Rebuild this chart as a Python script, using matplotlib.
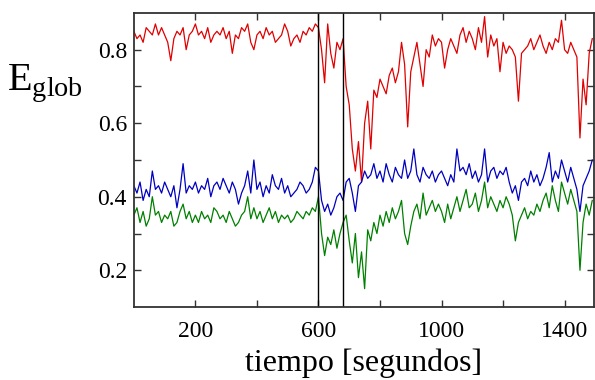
import numpy as np
import matplotlib
matplotlib.use("Agg")
import matplotlib.pyplot as plt

plt.rcParams['font.family'] = ['Liberation Serif', 'DejaVu Serif']
plt.rcParams['mathtext.fontset'] = 'custom'
plt.rcParams['mathtext.rm'] = 'Liberation Serif'

# time axis, one sample every 10 s
tiempo = np.arange(0, 1500, 10)

red = [0.85, 0.83, 0.84, 0.82, 0.86, 0.85, 0.84, 0.87, 0.84, 0.86,
       0.84, 0.82, 0.77, 0.83, 0.85, 0.84, 0.86, 0.80, 0.84, 0.85,
       0.87, 0.84, 0.85, 0.83, 0.86, 0.82, 0.84, 0.85, 0.84, 0.86,
       0.83, 0.85, 0.79, 0.84, 0.83, 0.86, 0.85, 0.87, 0.82, 0.80,
       0.84, 0.85, 0.83, 0.86, 0.84, 0.85, 0.82, 0.83, 0.84, 0.87,
       0.85, 0.81, 0.83, 0.84, 0.82, 0.85, 0.84, 0.86, 0.85, 0.87,
       0.86, 0.80, 0.71, 0.87, 0.79, 0.75, 0.82, 0.80, 0.83, 0.70,
       0.65, 0.53, 0.47, 0.55, 0.44, 0.60, 0.66, 0.53, 0.69, 0.67,
       0.72, 0.70, 0.68, 0.73, 0.75, 0.71, 0.74, 0.82, 0.76, 0.59,
       0.74, 0.78, 0.82, 0.76, 0.70, 0.80, 0.78, 0.84, 0.81, 0.83,
       0.82, 0.75, 0.80, 0.83, 0.81, 0.79, 0.84, 0.86, 0.82, 0.85,
       0.83, 0.80, 0.86, 0.82, 0.89, 0.78, 0.84, 0.81, 0.83, 0.74,
       0.82, 0.79, 0.81, 0.80, 0.78, 0.66, 0.79, 0.80, 0.81, 0.83,
       0.80, 0.82, 0.84, 0.81, 0.79, 0.82, 0.80, 0.83, 0.82, 0.88,
       0.80, 0.79, 0.82, 0.80, 0.78, 0.56, 0.72, 0.65, 0.79, 0.83]

blue = [0.43, 0.41, 0.44, 0.39, 0.42, 0.40, 0.47, 0.42, 0.43, 0.41,
        0.44, 0.42, 0.40, 0.43, 0.37, 0.42, 0.49, 0.41, 0.43, 0.42,
        0.44, 0.41, 0.43, 0.42, 0.45, 0.40, 0.43, 0.44, 0.42, 0.45,
        0.43, 0.41, 0.44, 0.42, 0.38, 0.41, 0.43, 0.47, 0.41, 0.50,
        0.42, 0.44, 0.40, 0.43, 0.41, 0.46, 0.43, 0.42, 0.45, 0.41,
        0.43, 0.40, 0.41, 0.42, 0.44, 0.43, 0.41, 0.42, 0.44, 0.48,
        0.47, 0.39, 0.36, 0.38, 0.35, 0.37, 0.40, 0.41, 0.39, 0.44,
        0.45, 0.41, 0.36, 0.43, 0.44, 0.47, 0.45, 0.46, 0.49, 0.45,
        0.47, 0.44, 0.49, 0.46, 0.44, 0.48, 0.46, 0.45, 0.50, 0.45,
        0.47, 0.53, 0.46, 0.44, 0.48, 0.46, 0.45, 0.47, 0.44, 0.46,
        0.47, 0.45, 0.43, 0.46, 0.44, 0.53, 0.47, 0.48, 0.46, 0.49,
        0.45, 0.47, 0.44, 0.46, 0.53, 0.44, 0.47, 0.48, 0.45, 0.47,
        0.46, 0.48, 0.44, 0.41, 0.43, 0.39, 0.44, 0.45, 0.43, 0.47,
        0.44, 0.46, 0.43, 0.45, 0.48, 0.52, 0.44, 0.47, 0.45, 0.50,
        0.47, 0.44, 0.48, 0.45, 0.42, 0.36, 0.43, 0.45, 0.47, 0.50]

green = [0.35, 0.37, 0.33, 0.36, 0.32, 0.34, 0.40, 0.35, 0.36, 0.33,
         0.35, 0.34, 0.36, 0.32, 0.33, 0.36, 0.38, 0.34, 0.36, 0.33,
         0.35, 0.33, 0.36, 0.34, 0.35, 0.33, 0.37, 0.36, 0.34, 0.35,
         0.33, 0.36, 0.34, 0.32, 0.33, 0.35, 0.36, 0.40, 0.34, 0.37,
         0.34, 0.36, 0.33, 0.35, 0.37, 0.34, 0.36, 0.33, 0.35, 0.34,
         0.35, 0.33, 0.34, 0.36, 0.35, 0.34, 0.36, 0.35, 0.37, 0.36,
         0.40, 0.30, 0.24, 0.29, 0.27, 0.31, 0.26, 0.30, 0.33, 0.35,
         0.28, 0.22, 0.30, 0.18, 0.25, 0.15, 0.31, 0.28, 0.33, 0.30,
         0.35, 0.32, 0.36, 0.33, 0.37, 0.34, 0.36, 0.39, 0.30, 0.27,
         0.32, 0.36, 0.38, 0.34, 0.41, 0.35, 0.37, 0.39, 0.36, 0.38,
         0.36, 0.33, 0.38, 0.34, 0.37, 0.40, 0.36, 0.39, 0.42, 0.37,
         0.38, 0.41, 0.36, 0.39, 0.44, 0.37, 0.40, 0.38, 0.36, 0.39,
         0.37, 0.40, 0.38, 0.35, 0.28, 0.33, 0.35, 0.37, 0.34, 0.36,
         0.35, 0.38, 0.36, 0.39, 0.41, 0.37, 0.43, 0.39, 0.36, 0.44,
         0.41, 0.38, 0.42, 0.39, 0.36, 0.20, 0.33, 0.38, 0.35, 0.39]

cortes = [600, 680]

fig = plt.figure(figsize=(5.95, 3.8), dpi=100)
ax = fig.add_axes([0.225, 0.192, 0.773, 0.774])

ax.plot(tiempo, red, color="#e00000", lw=0.9)
ax.plot(tiempo, blue, color="#0000c0", lw=0.9)
ax.plot(tiempo, green, color="#008000", lw=0.9)
for c in cortes:
    ax.axvline(c, color="black", lw=1)

ax.set_xlim(0, 1495)
ax.set_ylim(0.1, 0.9)
ax.set_xticks(np.arange(200, 1500, 200))
ax.set_xticklabels(["200", "", "600", "", "1000", "", "1400"])
ax.set_yticks(np.arange(0.2, 0.85, 0.1))
ax.set_yticklabels(["0.2", "", "0.4", "", "0.6", "", "0.8"])
ax.tick_params(direction="in", top=True, right=True, length=5, width=1,
               labelsize=17, color="#333333")
ax.tick_params(axis="x", pad=10)
ax.tick_params(axis="y", pad=5)
for s in ax.spines.values():
    s.set_linewidth(1.3)
    s.set_color("#333333")

ax.set_xlabel("tiempo [segundos]", fontsize=23, labelpad=5)
fig.text(0.012, 0.78, r"$\mathrm{E}_{\mathrm{glob}}$", fontsize=29, va="center")

fig.savefig("out.png", dpi=100)
